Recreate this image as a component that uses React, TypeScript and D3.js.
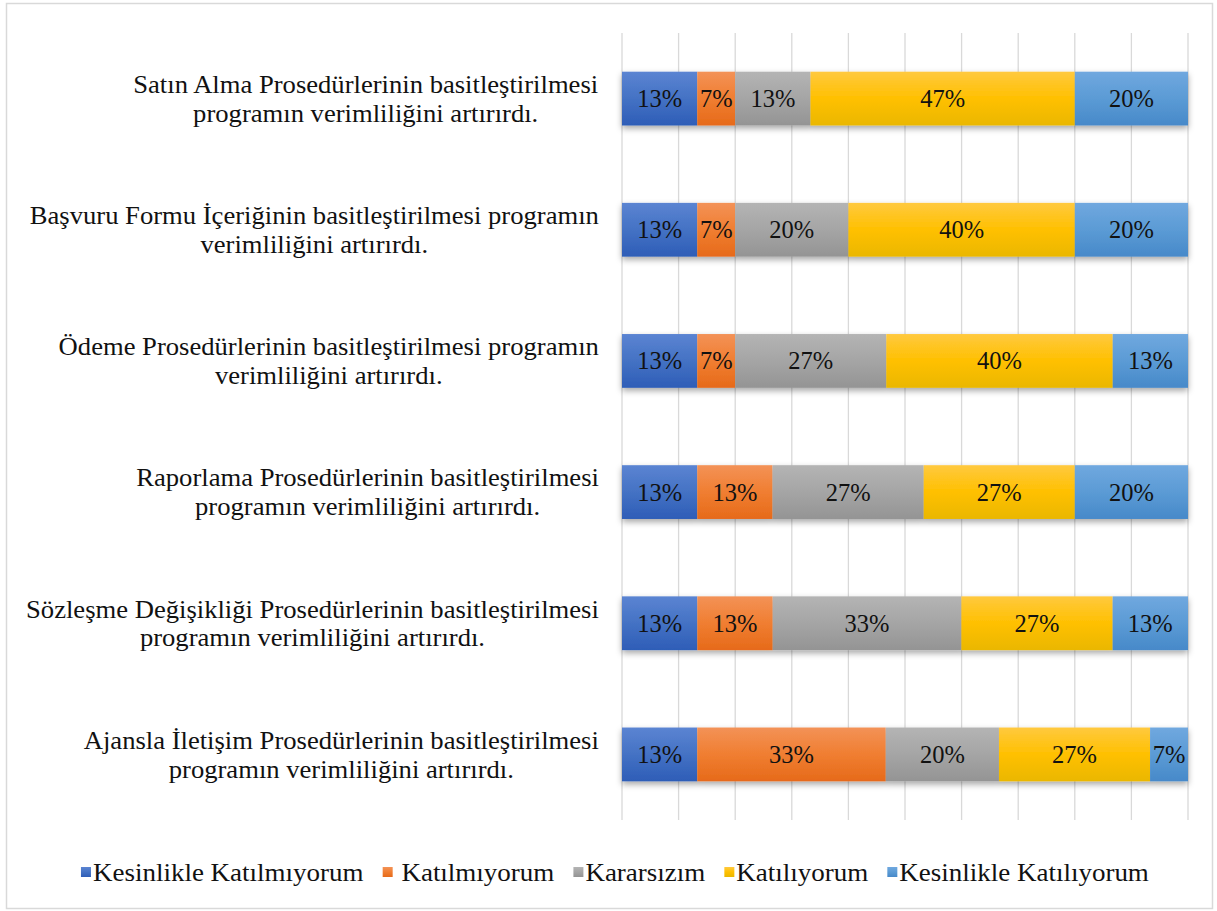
import React from "react";
import * as d3 from "d3";

const categoryLines: string[][] = [
  ["Satın Alma Prosedürlerinin basitleştirilmesi", "programın verimliliğini artırırdı."],
  ["Başvuru Formu İçeriğinin basitleştirilmesi programın", "verimliliğini artırırdı."],
  ["Ödeme Prosedürlerinin basitleştirilmesi programın", "verimliliğini artırırdı."],
  ["Raporlama Prosedürlerinin basitleştirilmesi", "programın verimliliğini artırırdı."],
  ["Sözleşme Değişikliği Prosedürlerinin basitleştirilmesi", "programın verimliliğini artırırdı."],
  ["Ajansla İletişim Prosedürlerinin basitleştirilmesi", "programın verimliliğini artırırdı."],
];

const seriesNames = [
  "Kesinlikle Katılmıyorum",
  " Katılmıyorum",
  "Kararsızım",
  "Katılıyorum",
  "Kesinlikle Katılıyorum",
];

const kesinlikleKatilmiyorum = [13.3, 13.3, 13.3, 13.3, 13.3, 13.3];
const katilmiyorum = [6.7, 6.7, 6.7, 13.3, 13.3, 33.3];
const kararsizim = [13.3, 20, 26.7, 26.7, 33.3, 20];
const katiliyorum = [46.7, 40, 40, 26.7, 26.7, 26.7];
const kesinlikleKatiliyorum = [20, 20, 13.3, 20, 13.3, 6.7];

const seriesValues = [
  kesinlikleKatilmiyorum,
  katilmiyorum,
  kararsizim,
  katiliyorum,
  kesinlikleKatiliyorum,
];

const gridTicks = [0, 0.1, 0.2, 0.3, 0.4, 0.5, 0.6, 0.7, 0.8, 0.9, 1];

const gradients = [
  { top: "#5B84D2", mid: "#4472C4", bottom: "#2E5DB7" },
  { top: "#F39257", mid: "#F07E31", bottom: "#E66A1A" },
  { top: "#B4B4B4", mid: "#A5A5A5", bottom: "#949494" },
  { top: "#FFC93F", mid: "#FFC000", bottom: "#EAB700" },
  { top: "#70A8DF", mid: "#5B9BD5", bottom: "#4789C9" },
];

const FONT = "'Liberation Serif', 'Times New Roman', serif";
const FS = 25;
const SX = 1.065;
const LSX = 1.08;
const DFS = 24.5;

let ctx: CanvasRenderingContext2D | null = null;
function measure(t: string, size = FS) {
  if (!ctx) {
    const c = document.createElement("canvas");
    ctx = c.getContext("2d");
  }
  if (!ctx) return t.length * size * 0.45;
  ctx.font = `${size}px 'Liberation Serif'`;
  return ctx.measureText(t).width;
}

export default function App() {
  const W = 1217;
  const H = 911;
  const plotLeft = 622;
  const plotRight = 1188;
  const plotTop = 33;
  const plotBottom = 820;

  const rows = categoryLines.map((_, i) => {
    const r: any = { idx: i };
    seriesNames.forEach((s, j) => (r[s] = seriesValues[j][i]));
    return r;
  });
  const stack = d3.stack<any>().keys(seriesNames).offset(d3.stackOffsetExpand);
  const stacked = stack(rows);

  const x = d3.scaleLinear().domain([0, 1]).range([plotLeft, plotRight]);
  const y = d3
    .scaleBand<number>()
    .domain(rows.map((r) => r.idx))
    .range([plotTop, plotBottom])
    .paddingInner(0.59)
    .paddingOuter(0.295);

  const labelRight = 599;
  const lineH = 29;

  // legend layout
  const markerSize = 10;
  const markerGap = 2;
  const itemWidths = seriesNames.map((s) => markerSize + markerGap + measure(s) * LSX);
  const gap = 19;
  const totalW = d3.sum(itemWidths) + gap * (seriesNames.length - 1);
  let cursor = 615 - totalW / 2;
  const legendPos = itemWidths.map((w) => {
    const p = cursor;
    cursor += w + gap;
    return p;
  });
  const legendY = 872;

  return (
    <svg
      width={W}
      height={H}
      style={{ position: "absolute", left: 0, top: 0, background: "#fff" }}
      fontFamily={FONT}
    >
      <defs>
        {gradients.map((g, i) => (
          <linearGradient key={i} id={`grad${i}`} x1="0" y1="0" x2="0" y2="1">
            <stop offset="0%" stopColor={g.top} />
            <stop offset="50%" stopColor={g.mid} />
            <stop offset="100%" stopColor={g.bottom} />
          </linearGradient>
        ))}
        <filter id="shadow" x="-5%" y="-30%" width="110%" height="180%">
          <feDropShadow dx="0" dy="3" stdDeviation="3" floodColor="#000" floodOpacity="0.35" />
        </filter>
      </defs>
      <rect x={6.5} y={3.5} width={1206} height={905} fill="#fff" stroke="#D9D9D9" strokeWidth={1.5} />

      {gridTicks.map((t) => (
        <line
          key={t}
          x1={x(t)}
          x2={x(t)}
          y1={plotTop}
          y2={plotBottom}
          stroke="#D9D9D9"
          strokeWidth={1.3}
        />
      ))}

      {rows.map((r) => (
        <g key={r.idx} filter="url(#shadow)">
          {stacked.map((s, j) => {
            const d = s[r.idx];
            return (
              <rect
                key={j}
                x={x(d[0])}
                y={y(r.idx)}
                width={x(d[1]) - x(d[0])}
                height={y.bandwidth()}
                fill={`url(#grad${j})`}
              />
            );
          })}
        </g>
      ))}

      {rows.map((r) =>
        stacked.map((s, j) => {
          const d = s[r.idx];
          return (
            <text
              key={`${r.idx}-${j}`}
              x={(x(d[0]) + x(d[1])) / 2}
              y={(y(r.idx) as number) + y.bandwidth() / 2}
              dy="0.35em"
              textAnchor="middle"
              fontSize={DFS}
              fill="#111"
            >
              {Math.round(seriesValues[j][r.idx])}%
            </text>
          );
        })
      )}

      {categoryLines.map((lines, i) => {
        const maxW = (d3.max(lines, (l) => measure(l)) || 0) * SX;
        const cx = labelRight - maxW / 2;
        const cy = (y(i) as number) + y.bandwidth() / 2;
        return (
          <g key={i} transform={`translate(${cx},${cy}) scale(${SX},1)`}>
            {lines.map((l, k) => (
              <text
                key={k}
                x={0}
                y={(k - (lines.length - 1) / 2) * lineH}
                dy="0.35em"
                textAnchor="middle"
                fontSize={FS}
                fill="#111"
              >
                {l}
              </text>
            ))}
          </g>
        );
      })}

      {seriesNames.map((s, j) => (
        <g key={s} transform={`translate(${legendPos[j]},${legendY})`}>
          <rect x={0} y={-markerSize / 2} width={markerSize} height={markerSize} fill={`url(#grad${j})`} />
          <g transform={`translate(${markerSize + markerGap},0) scale(${LSX},1)`}>
            <text x={0} y={0} dy="0.35em" fontSize={FS} fill="#111" style={{ whiteSpace: "pre" }}>
              {s}
            </text>
          </g>
        </g>
      ))}
    </svg>
  );
}
